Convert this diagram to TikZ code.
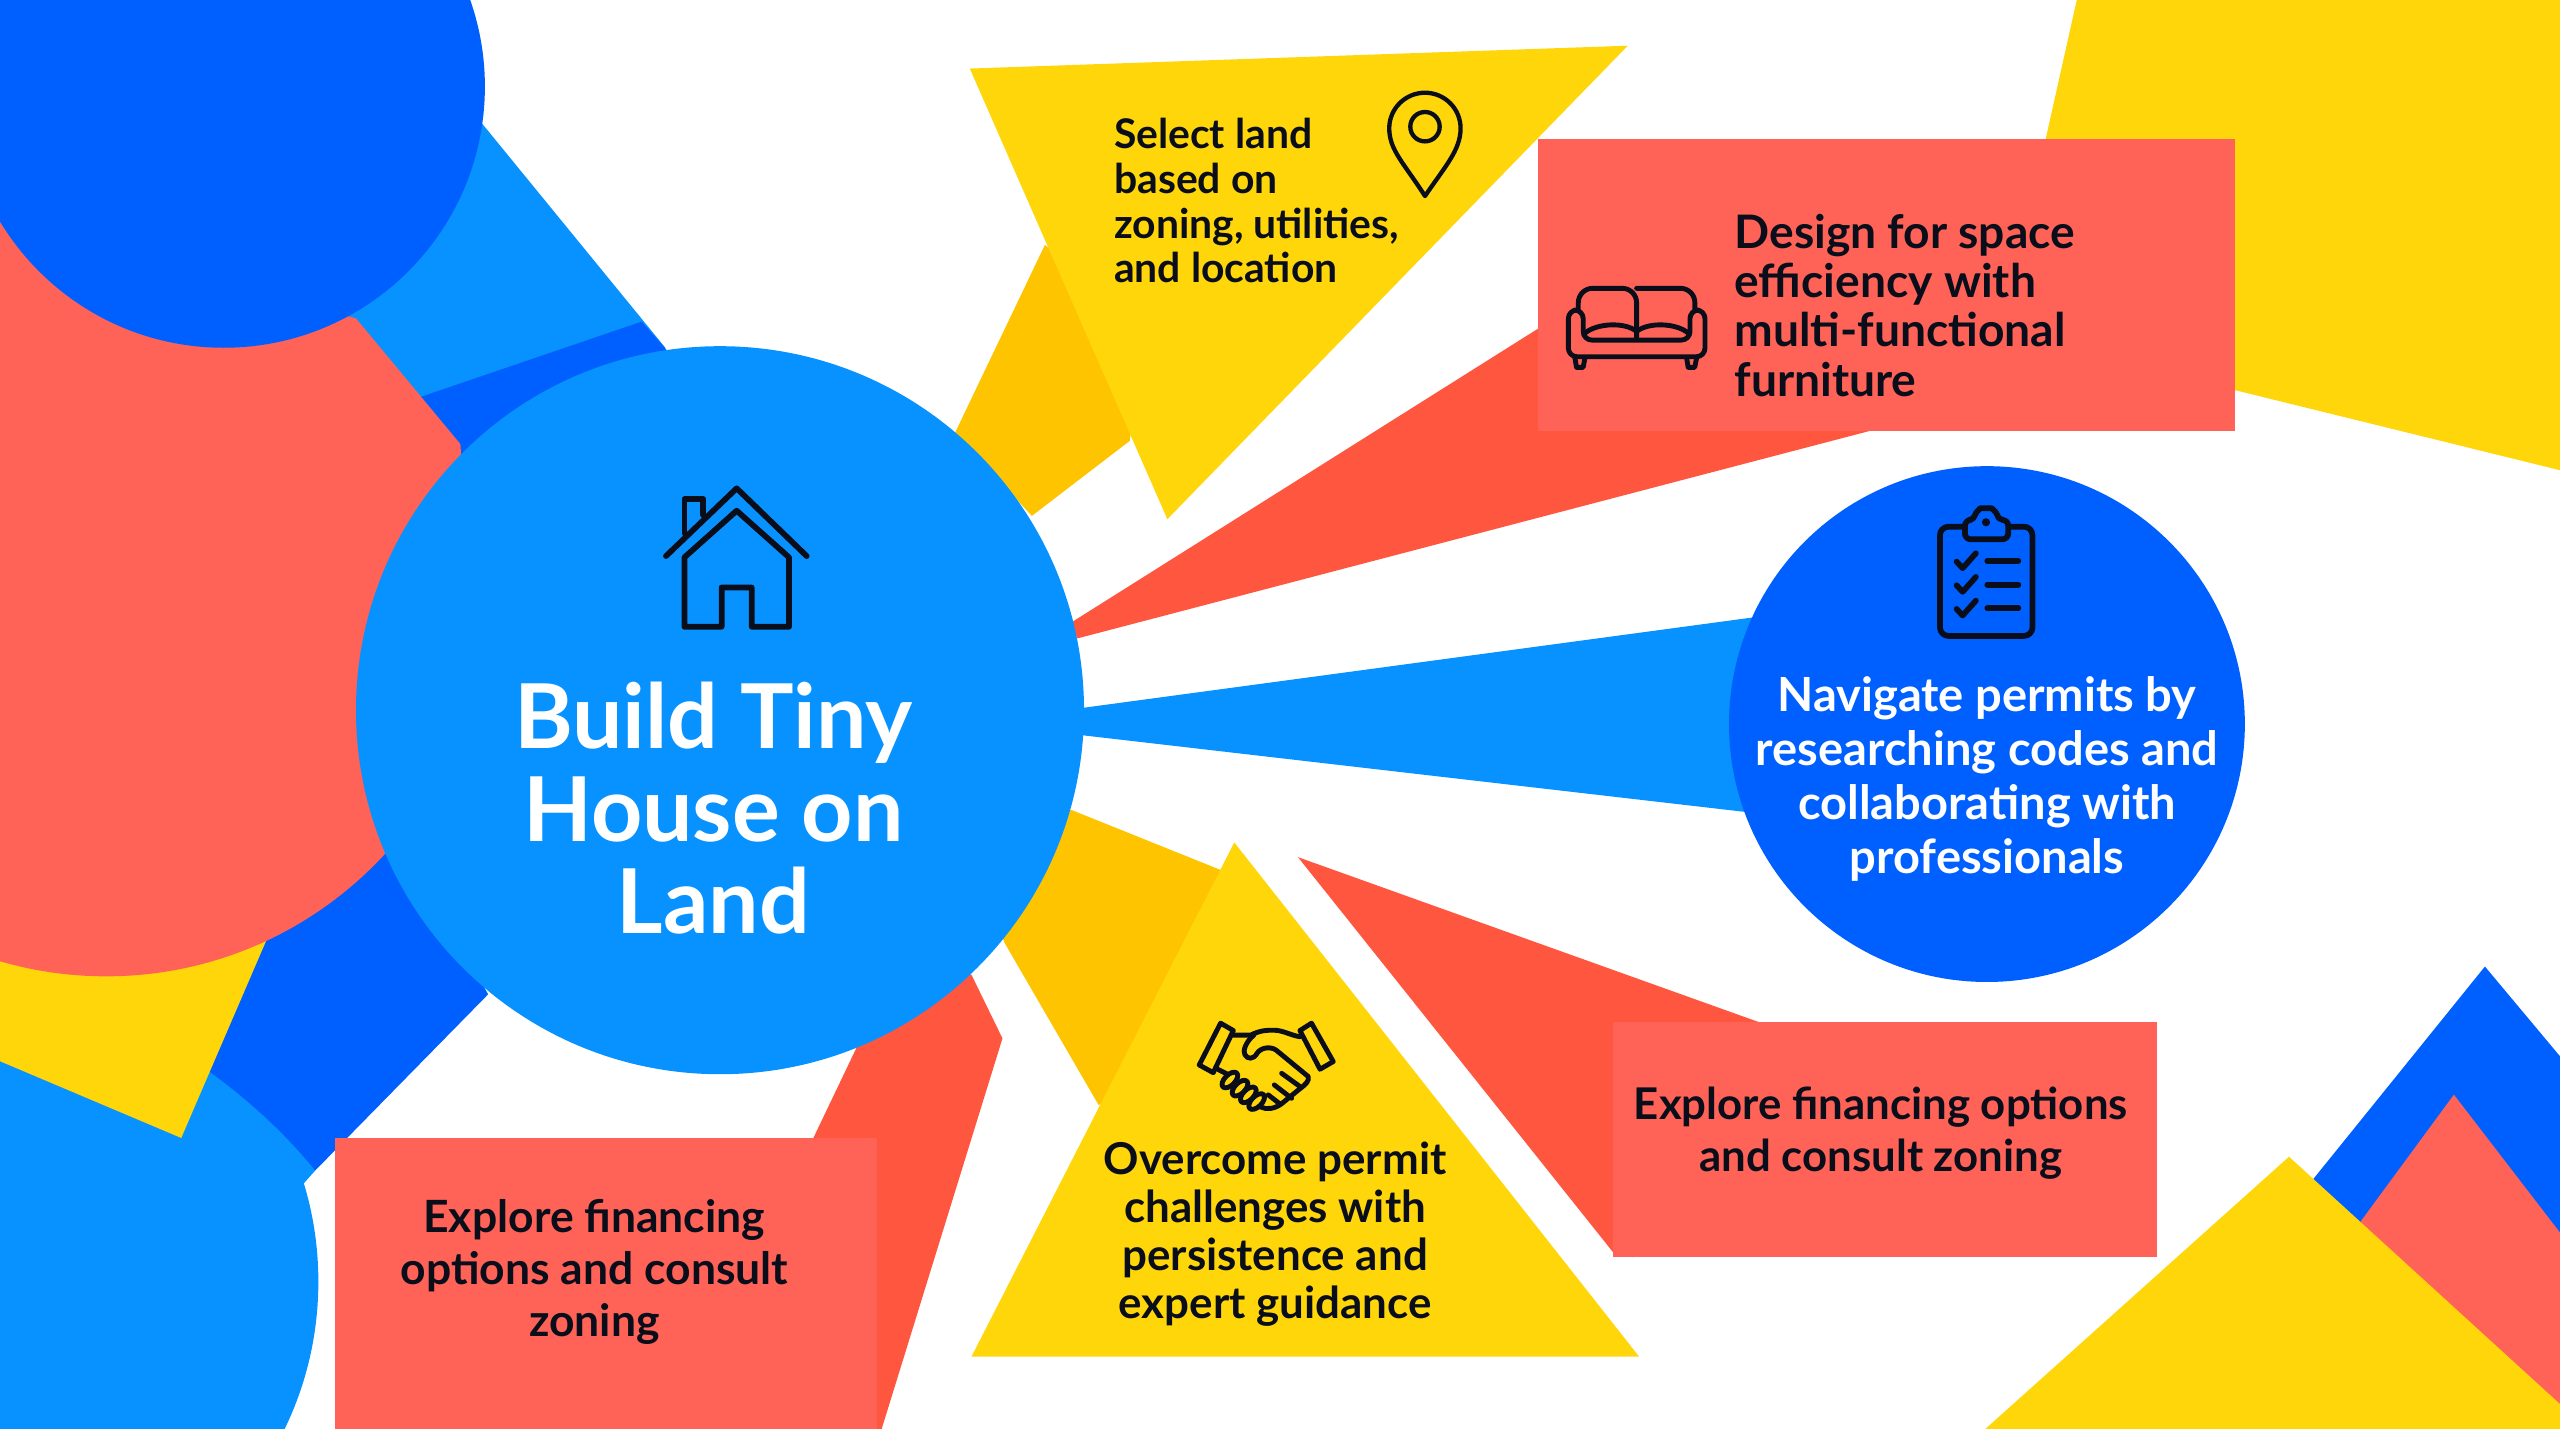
\documentclass[tikz,border=0pt]{standalone}
\usepackage{fontspec}
\setmainfont{Lato}
\usepackage{tikz}
\definecolor{sunyellow}{HTML}{FFD60A}
\definecolor{deeporange}{HTML}{FFC400}
\definecolor{coralbox}{HTML}{FF6257}
\definecolor{coralwedge}{HTML}{FF5640}
\definecolor{skyblue}{HTML}{0892FF}
\definecolor{royalblue}{HTML}{0060FF}
\definecolor{iconblack}{HTML}{0A0E1A}
\tikzstyle{hub} = [circle, inner sep=0pt, minimum size=8.92cm, fill=skyblue]
\tikzstyle{permit} = [circle, inner sep=0pt, minimum size=6.32cm, fill=royalblue]
\tikzstyle{panel} = [rectangle, inner sep=0pt, fill=coralbox]
\tikzstyle{label} = [inner sep=0pt, font=\bfseries, text=iconblack]
\tikzstyle{icon} = [draw=iconblack, line width=1.7pt, line join=round, line cap=round]

\begin{document}
\begin{tikzpicture}[x=0.02cm, y=-0.02cm]
\useasboundingbox (0,0) rectangle (1568,875.25);
\clip (0,0) rectangle (1568,875.25);
\fill [white] (0,0) rectangle (1568,875.25);

% left cluster
\fill [skyblue] (280,57) -- (407.5,213) -- (300,290) -- (180,170) -- cycle;
\fill [royalblue] (258,243) -- (393,197) -- (408,214) -- (430,260) -- (300,300) -- (250,260) -- cycle;
\fill [royalblue] (100,600) -- (236,500) -- (299,609) -- (193,717) -- (150,700) -- cycle;
\begin{scope}
\clip (-230,725) rectangle (300,1000);
\fill [skyblue] (-12,785) circle [radius=207];
\end{scope}
\fill [skyblue] (0,620) -- (129,657) .. controls (155,676) and (176,696) .. (193,717) -- (185,726) -- (0,726) -- cycle;
\fill [sunyellow] (0,560) -- (170,560) -- (111,697) -- (0,650) -- cycle;
\begin{scope}
\clip (-10,270) rectangle (300,620);
\fill [coralbox] (65,366) circle [radius=232];
\end{scope}
\fill [coralbox] (0,135) -- (218,195) -- (282,272) -- (290,400) -- (0,400) -- cycle;
\fill [royalblue] (137,53) circle [radius=160];

% top right and bottom right corners
\fill [sunyellow] (1272,0) -- (1568,0) -- (1568,288) -- (1300,222) -- (1253,85) -- cycle;
\fill [royalblue] (1522,592) -- (1568,647) -- (1568,875.25) -- (1417,875.25) -- (1417,722) -- cycle;
\fill [coralbox] (1503,670.5) -- (1568,755) -- (1568,875.25) -- (1446,875.25) -- (1446,748) -- cycle;
\fill [sunyellow] (1402,708.5) -- (1568,860) -- (1568,875.25) -- (1216,875.25) -- cycle;

% wedges behind the hub
\fill [deeporange] (640,150) -- (585,265) -- (632,316) -- (692,270) -- (700,200) -- cycle;
\fill [coralwedge] (655,382) -- (960,190) -- (1145,264) -- (660,391) -- cycle;
\fill [skyblue] (660,434) -- (1075,378) -- (1075,498) -- (660,450) -- cycle;
\fill [deeporange] (656,496) -- (748,533) -- (760,600) -- (673,677) -- (615,577) -- (600,530) -- cycle;
\fill [coralwedge] (595,597) -- (614,636) -- (540,875.25) -- (470,875.25) -- (480,735) -- (546,597) -- cycle;
\fill [coralwedge] (795,525) -- (1080,627) -- (1000,770) -- (988,767) -- cycle;

% yellow triangles
\fill [sunyellow] (594,42) -- (997,28) -- (715,318) -- cycle;
\fill [sunyellow] (756,516) -- (1004,831) -- (595,831) -- cycle;

\node (hubdisc) [hub] at (441,435) {};
\node (permitdisc) [permit] at (1217,443.5) {};
\node (designpanel) [panel, minimum width=8.54cm, minimum height=3.58cm] at (1155.5,174.5) {};
\node (financepanel) [panel, minimum width=6.66cm, minimum height=2.88cm] at (1154.5,698) {};
\node (zoningpanel) [panel, minimum width=6.64cm, minimum height=3.56cm] at (371,786) {};

\node (hubtext) [inner sep=0pt, text=white, font=\fontsize{31.2}{32.4}\bfseries\selectfont, align=center] at (437,495) {Build Tiny\\House on\\Land};
\node (landtext) [label, align=left, font=\fontsize{14.25}{15.55}\bfseries\selectfont, anchor=west] at (682,123) {Select land\\based on\\zoning, utilities,\\and location};
\node (designtext) [label, align=left, font=\fontsize{16.1}{17.25}\bfseries\selectfont, anchor=west] at (1062,187) {Design for space\\efficiency with\\multi-functional\\furniture};
\node (permittext) [inner sep=0pt, text=white, align=center, font=\fontsize{16.4}{18.8}\bfseries\selectfont] at (1217,477) {Navigate permits by\\researching codes and\\collaborating with\\professionals};
\node (overcometext) [label, align=center, font=\fontsize{15.3}{16.8}\bfseries\selectfont] at (781,756) {Overcome permit\\challenges with\\persistence and\\expert guidance};
\node (financetext) [label, align=center, font=\fontsize{15.25}{18.2}\bfseries\selectfont] at (1152,694) {Explore financing options\\and consult zoning};
\node (zoningtext) [label, align=center, font=\fontsize{15.5}{18.2}\bfseries\selectfont] at (364,779) {Explore financing\\options and consult\\zoning};

% house
\draw [icon, line width=2pt] (407.9,340.6) -- (451.2,299.1) -- (494.1,340.6);
\draw [icon, line width=2pt] (419.2,326.7) -- (419.2,305.7) -- (430.8,305.7) -- (430.8,315.5);
\draw [icon, line width=2pt] (419.2,341.4) -- (451.2,312.8) -- (483.3,341.4) -- (483.3,383.9) -- (460.4,383.9) -- (460.4,359.8) -- (442,359.8) -- (442,383.9) -- (419.2,383.9) -- cycle;

% pin
\draw [icon, line width=1.5pt] (872.8,120.1) .. controls (860,100) and (850.9,92) .. (850.9,78.6) .. controls (850.9,66.5) and (860.8,56.8) .. (872.8,56.8) .. controls (884.8,56.8) and (894.6,66.5) .. (894.6,78.6) .. controls (894.6,92) and (885,102) .. cycle;
\draw [icon, line width=1.5pt] (872.8,77.6) circle [radius=9];

% sofa
\draw [icon, rounded corners=5pt] (966.7,190) -- (966.7,176.6) -- (1002.4,176.6) -- (1002.4,207) ;
\draw [icon, rounded corners=5pt] (1038.1,190) -- (1038.1,176.6) -- (1002.4,176.6);
\draw [icon, rounded corners=3pt] (969.7,208.3) -- (969.7,189.9) -- (960.6,189.9) -- (960.6,218.5) -- (1044.3,218.5) -- (1044.3,189.9) -- (1035.1,189.9) -- (1035.1,208.3) -- cycle;
\draw [icon] (970.8,204) .. controls (978,198) and (995,197) .. (1002.4,203) .. controls (1010,197) and (1027,198) .. (1034,204);
\draw [icon] (964.6,219) -- (965.6,225) -- (969.7,225) -- (970.8,219);
\draw [icon] (1033,219) -- (1034,225) -- (1038,225) -- (1039.2,219);

% clipboard
\draw [icon, line width=2pt, rounded corners=3pt] (1188.2,322.6) rectangle (1244.9,389.5);
\draw [icon, line width=2pt, fill=royalblue, rounded corners=2pt] (1203.5,330.3) -- (1203.5,318.5) -- (1209.5,318.5) .. controls (1210,314) and (1213,311.3) .. (1216.4,311.3) .. controls (1220,311.3) and (1223,314) .. (1223.4,318.5) -- (1230,318.5) -- (1230,330.3) -- cycle;
\fill [iconblack] (1216.4,319.9) circle [radius=2.5];
\foreach \rowy in {0,14.5,29} {
  \draw [icon, line width=2pt] (1198.4,344+\rowy) -- (1202.1,348+\rowy) -- (1210.2,338.9+\rowy);
  \draw [icon, line width=2pt] (1217.2,343.6+\rowy) -- (1236.2,343.6+\rowy);
}

% handshake
\draw [icon] (747.6,626.7) -- (755.4,631.2) -- (743.1,657) -- (734.5,652.3) -- cycle;
\draw [icon] (803.3,626.7) -- (796.2,631.2) -- (808.5,654.9) -- (816.6,650.2) -- cycle;
\draw [icon] (755.4,634) -- (766,634) .. controls (772,631) and (776,631) .. (780,631) .. controls (786,631) and (790,634) .. (796.2,635);
\draw [icon] (768,634) .. controls (763,638) and (761,644) .. (762.5,646) .. controls (764,649) and (768,649) .. (770,645) .. controls (773,641) and (779,641) .. (782,643.5) -- (801.3,659.4) .. controls (802,662) and (800,664) .. (796,667) -- (785,676) .. controls (781,679) and (776,680) .. (772,678);
\draw [icon] (785,657.4) -- (796.2,665.5);
\draw [icon] (780.5,664.5) -- (791.1,672.7);
\draw [icon] (776.8,670.6) -- (784,676.2);
\draw [icon] (746,655) -- (752,658);
\foreach \fx/\fy in {753.3/661.5, 759.5/666.5, 764.6/670.6, 769.7/674.7} {
  \draw [icon] (\fx,\fy) ellipse [x radius=6, y radius=3.2, rotate=45];
}

\end{tikzpicture}
\end{document}
